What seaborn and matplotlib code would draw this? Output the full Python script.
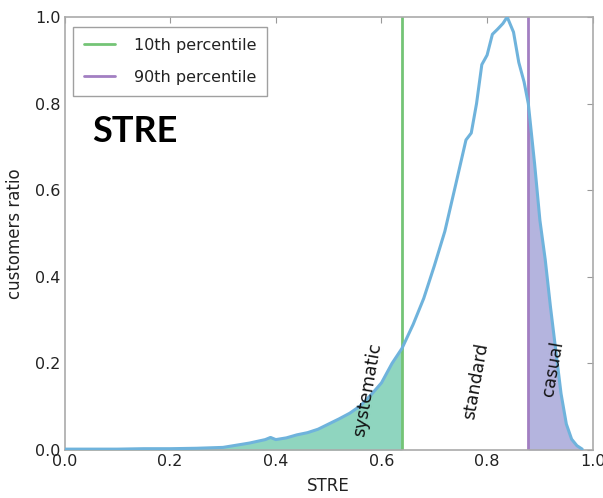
import numpy as np
import pandas as pd
import matplotlib
matplotlib.use("Agg")
import matplotlib.pyplot as plt
import seaborn as sns

# Data
stre = [0.0, 0.05, 0.1, 0.15, 0.2, 0.25, 0.3, 0.32, 0.35, 0.38, 0.39, 0.40,
        0.42, 0.44, 0.46, 0.48, 0.50, 0.52, 0.54, 0.56, 0.58, 0.60, 0.62,
        0.639, 0.66, 0.68, 0.70, 0.72, 0.74, 0.76, 0.77, 0.78, 0.79, 0.80,
        0.81, 0.82, 0.83, 0.838, 0.85, 0.86, 0.87, 0.878, 0.89, 0.90, 0.91,
        0.92, 0.93, 0.94, 0.95, 0.96, 0.97, 0.98]
ratio = [0.002, 0.002, 0.002, 0.003, 0.003, 0.004, 0.006, 0.010, 0.016,
         0.024, 0.029, 0.024, 0.028, 0.035, 0.040, 0.048, 0.060, 0.072,
         0.085, 0.102, 0.127, 0.155, 0.200, 0.235, 0.290, 0.350, 0.425,
         0.505, 0.610, 0.716, 0.732, 0.800, 0.890, 0.912, 0.960, 0.972,
         0.985, 1.000, 0.965, 0.895, 0.850, 0.800, 0.660, 0.530, 0.440,
         0.330, 0.230, 0.130, 0.060, 0.025, 0.010, 0.002]
p10 = 0.639
p90 = 0.878
legend_labels = ["10th percentile", "90th percentile"]
region_labels = ["systematic", "standard", "casual"]
region_x = [0.573, 0.779, 0.924]
region_y = [0.139, 0.16, 0.187]
xticks = [0.0, 0.2, 0.4, 0.6, 0.8, 1.0]
yticks = [0.0, 0.2, 0.4, 0.6, 0.8, 1.0]

df = pd.DataFrame({"STRE": stre, "ratio": ratio})

sns.set_style("white")
plt.rcParams["font.family"] = ["DejaVu Sans"]

fig = plt.figure(figsize=(6.03, 4.98), dpi=100)
ax = fig.add_axes([0.107, 0.0964, 0.876, 0.8695])

curve_color = "#6fb3dc"
green = "#74c476"
purple = "#a27fc2"

x = np.array(stre)
y = np.array(ratio)
m1 = x <= p10
ax.fill_between(x[m1], 0, y[m1], color="#8fd5bf", zorder=1, linewidth=0)
m2 = x >= p90
ax.fill_between(x[m2], 0, y[m2], color="#b4b4de", zorder=1, linewidth=0)

sns.lineplot(data=df, x="STRE", y="ratio", ax=ax, color=curve_color,
             linewidth=2.2, zorder=3, legend=False)

ax.axvline(p10, color=green, linewidth=2.0, label=legend_labels[0], zorder=2)
ax.axvline(p90, color=purple, linewidth=2.0, label=legend_labels[1], zorder=2)

for lab, rx, ry in zip(region_labels, region_x, region_y):
    ax.text(rx, ry, lab, rotation=80, ha="center", va="center",
            fontsize=12.5, color="#111111", zorder=4)

ax.text(0.052, 0.735, "STRE", fontsize=26, fontweight="bold",
        family=["Lato", "DejaVu Sans"], color="black",
        transform=ax.transAxes, va="center", ha="left")

ax.set_xlim(0, 1)
ax.set_ylim(0, 1)
ax.set_xticks(xticks)
ax.set_yticks(yticks)
ax.set_xticklabels([f"{t:.1f}" for t in xticks])
ax.set_yticklabels([f"{t:.1f}" for t in yticks])
ax.tick_params(direction="in", length=4, width=0.8, color="#999999",
               labelsize=11.5, labelcolor="#222222", top=True, right=True,
               pad=3)
for s in ax.spines.values():
    s.set_color("#aaaaaa")
    s.set_linewidth(1.2)
    s.set_visible(True)

ax.set_xlabel("STRE", fontsize=12, color="#222222", labelpad=6)
ax.set_ylabel("customers ratio", fontsize=12, color="#222222", labelpad=8)

leg = ax.legend(loc="upper left", fontsize=11.5, frameon=True, fancybox=False,
                borderpad=0.7, labelspacing=1.05, handlelength=1.9,
                handletextpad=1.2,
                bbox_to_anchor=(0.01, 0.985), borderaxespad=0.2)
leg.get_frame().set_edgecolor("#888888")
leg.get_frame().set_linewidth(1.0)
for t in leg.get_texts():
    t.set_color("#222222")

fig.savefig("out.png", dpi=100)
